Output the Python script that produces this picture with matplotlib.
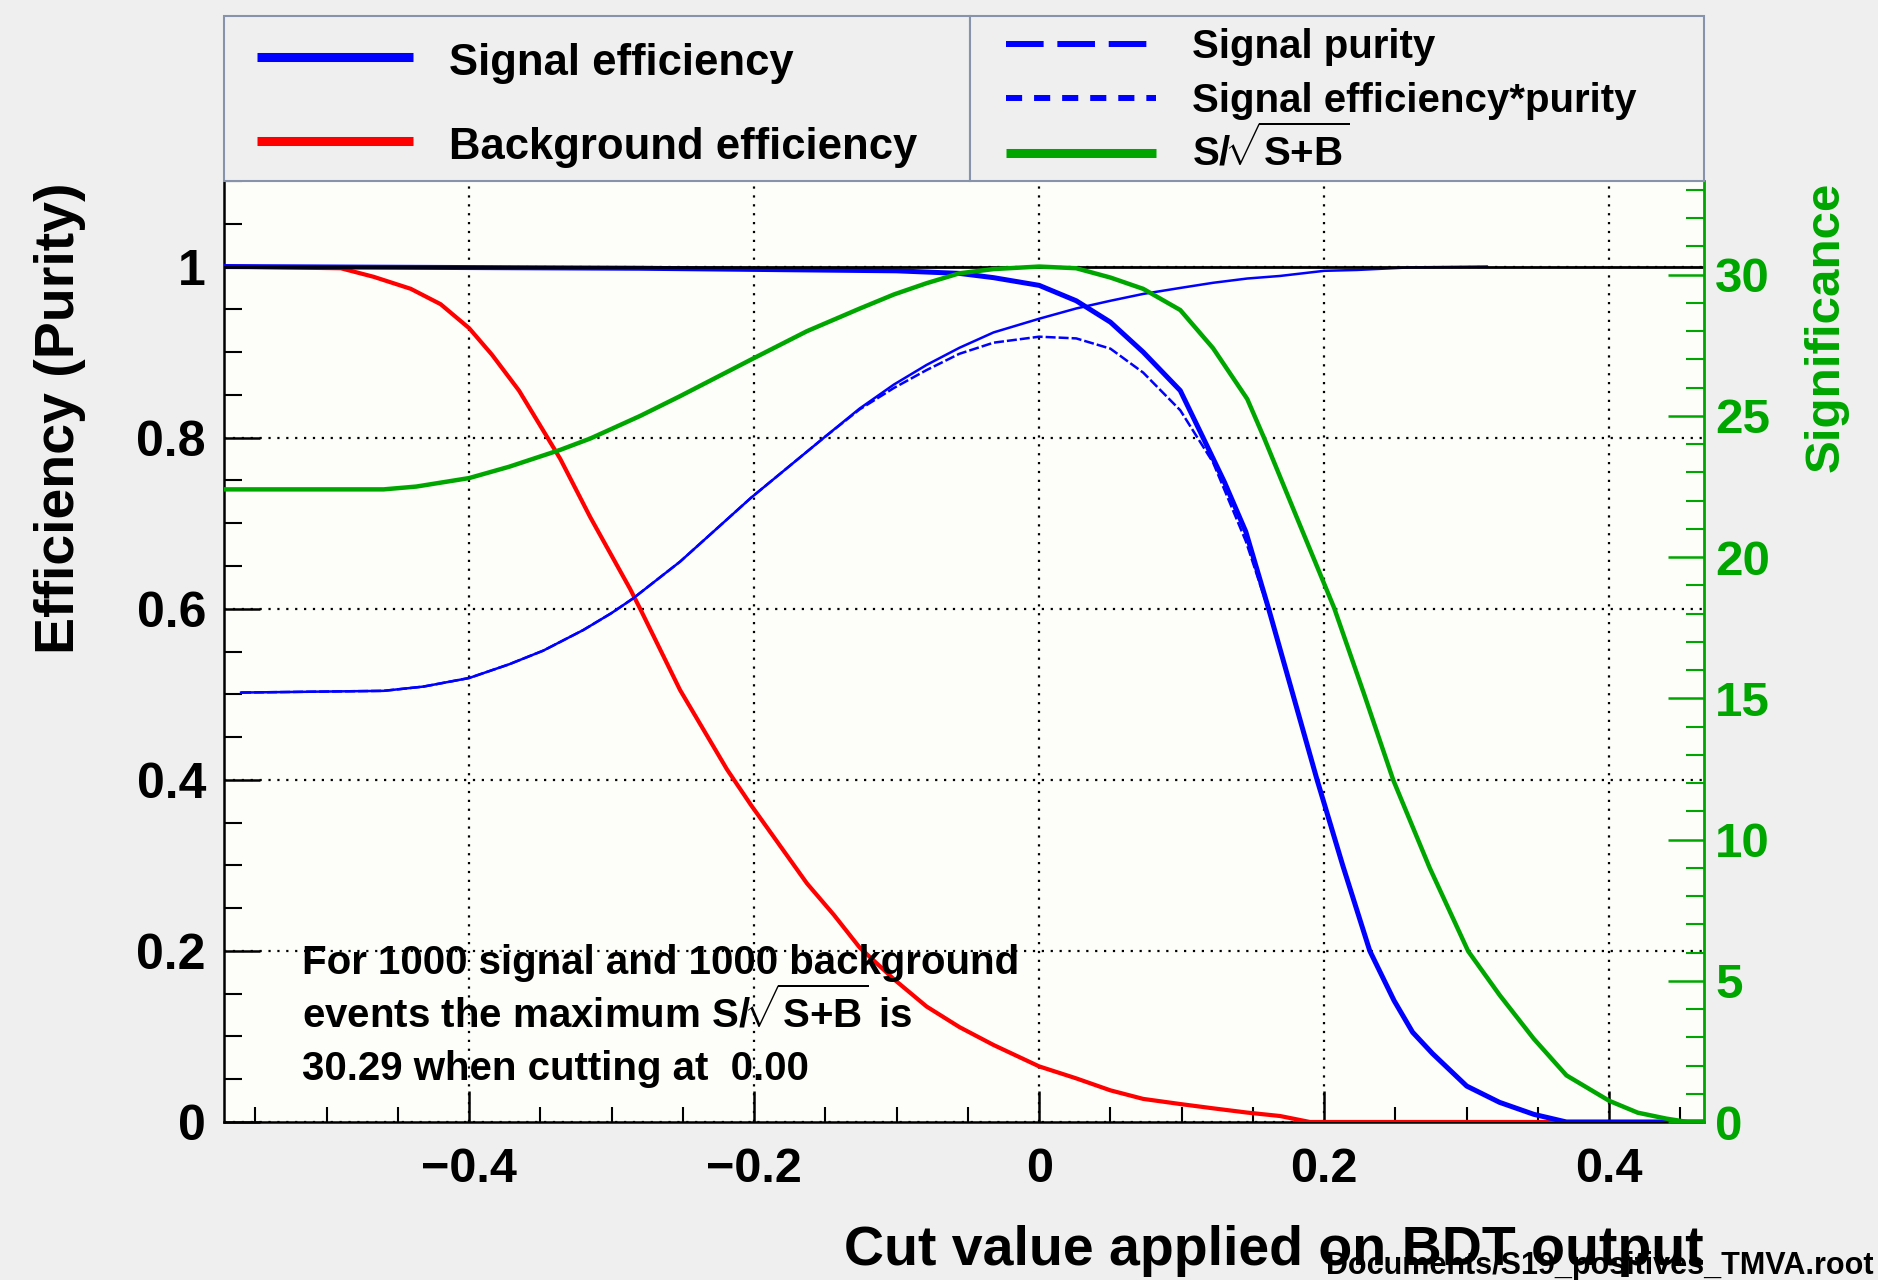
import numpy as np
import matplotlib
matplotlib.use("Agg")
import matplotlib.pyplot as plt
from matplotlib.lines import Line2D
from matplotlib.patches import Rectangle
from matplotlib.ticker import MultipleLocator

# === Fonts ===
plt.rcParams['font.family'] = ['Liberation Sans', 'DejaVu Sans']
plt.rcParams['font.weight'] = 'bold'
plt.rcParams['mathtext.fontset'] = 'custom'
plt.rcParams['mathtext.rm'] = 'Liberation Sans:bold'
plt.rcParams['mathtext.bf'] = 'Liberation Sans:bold'
plt.rcParams['mathtext.it'] = 'Liberation Sans:bold'
plt.rcParams['mathtext.sf'] = 'Liberation Sans:bold'

# === Data ===
x_range = (-0.572, 0.4665)
eff_top = 1.1
sig_max = 30.29

# background efficiency
bkg_x = [-0.572, -0.49, -0.467, -0.441, -0.42, -0.40, -0.384, -0.365, -0.345, -0.336,
         -0.315, -0.287, -0.280, -0.252, -0.219, -0.202, -0.187, -0.163, -0.144, -0.126,
         -0.102, -0.079, -0.056, -0.032, 0.0, 0.026, 0.050, 0.073, 0.099, 0.122,
         0.146, 0.169, 0.190, 0.44]
bkg_eff = [1.0, 0.998, 0.988, 0.974, 0.956, 0.928, 0.897, 0.855, 0.80, 0.775,
           0.707, 0.623, 0.60, 0.505, 0.412, 0.370, 0.335, 0.279, 0.242, 0.204,
           0.167, 0.135, 0.111, 0.090, 0.065, 0.051, 0.037, 0.027, 0.021, 0.016,
           0.011, 0.007, 0.0, 0.0]

# signal efficiency
sig_x = [-0.572, -0.28, -0.10, -0.056, -0.032, 0.0, 0.026, 0.050, 0.073, 0.099,
         0.115, 0.130, 0.145, 0.161, 0.178, 0.195, 0.213, 0.232, 0.249, 0.262,
         0.276, 0.30, 0.323, 0.347, 0.37, 0.4665]
sig_eff = [1.0, 0.998, 0.995, 0.992, 0.987, 0.978, 0.960, 0.935, 0.900, 0.855,
           0.80, 0.748, 0.69, 0.60, 0.50, 0.40, 0.30, 0.20, 0.142, 0.105,
           0.080, 0.042, 0.023, 0.009, 0.0, 0.0]

# signal purity
pur_x = [-0.560, -0.46, -0.432, -0.40, -0.372, -0.348, -0.32, -0.30, -0.285, -0.252,
         -0.202, -0.151, -0.126, -0.102, -0.079, -0.056, -0.032, 0.0, 0.026, 0.050,
         0.073, 0.099, 0.122, 0.146, 0.169, 0.20, 0.223, 0.26, 0.314]
purity = [0.502, 0.504, 0.509, 0.519, 0.535, 0.551, 0.575, 0.595, 0.612, 0.655,
          0.730, 0.80, 0.834, 0.862, 0.885, 0.905, 0.923, 0.939, 0.951, 0.960,
          0.968, 0.975, 0.981, 0.986, 0.989, 0.995, 0.996, 0.999, 1.0]

# signal efficiency * purity
effpur_x = [-0.560, -0.46, -0.432, -0.40, -0.372, -0.348, -0.32, -0.30, -0.285, -0.252,
            -0.202, -0.151, -0.126, -0.102, -0.079, -0.056, -0.032, 0.0, 0.026, 0.050,
            0.073, 0.099, 0.122, 0.145, 0.161, 0.178, 0.195, 0.213, 0.232, 0.249,
            0.262, 0.276, 0.30, 0.323, 0.347, 0.37]
eff_pur = [0.502, 0.504, 0.509, 0.519, 0.535, 0.551, 0.575, 0.595, 0.612, 0.655,
           0.730, 0.80, 0.833, 0.858, 0.879, 0.898, 0.911, 0.918, 0.916, 0.904,
           0.876, 0.832, 0.771, 0.679, 0.598, 0.498, 0.399, 0.30, 0.20, 0.142,
           0.105, 0.080, 0.042, 0.023, 0.009, 0.0]

# significance S/sqrt(S+B), right axis
signif_x = [-0.572, -0.46, -0.437, -0.40, -0.372, -0.348, -0.336, -0.315, -0.280, -0.252,
            -0.202, -0.163, -0.126, -0.102, -0.079, -0.056, -0.032, 0.0, 0.026, 0.050,
            0.073, 0.099, 0.122, 0.146, 0.158, 0.18, 0.207, 0.228, 0.2485, 0.274,
            0.301, 0.323, 0.347, 0.37, 0.40, 0.42, 0.44, 0.455, 0.4665]
signif = [22.4, 22.4, 22.5, 22.8, 23.2, 23.6, 23.8, 24.2, 25.0, 25.7,
          27.0, 28.0, 28.8, 29.3, 29.7, 30.05, 30.2, 30.29, 30.23, 29.9,
          29.5, 28.75, 27.4, 25.6, 24.2, 21.5, 18.2, 15.15, 12.1, 9.0,
          6.05, 4.5, 2.95, 1.65, 0.75, 0.33, 0.12, 0.0, 0.0]

# tick labels
x_ticks = [-0.4, -0.2, 0.0, 0.2, 0.4]
x_tick_labels = ['\u22120.4', '\u22120.2', '0', '0.2', '0.4']
y_ticks = [0.0, 0.2, 0.4, 0.6, 0.8, 1.0]
y_tick_labels = ['0', '0.2', '0.4', '0.6', '0.8', '1']
sig_ticks = [0, 5, 10, 15, 20, 25, 30]
sig_tick_labels = ['0', '5', '10', '15', '20', '25', '30']

sqrt_label = r'S/$\!\sqrt{\mathrm{S{+}B}}$'
info_lines = ['For 1000 signal and 1000 background',
              'events the maximum ' + sqrt_label + ' is',
              '30.29 when cutting at  0.00']

# === Colours ===
c_blue = '#0000ff'
c_red = '#ff0000'
c_green = '#00a600'
c_frame = '#8793aa'
c_bg = '#efefef'

# === Figure in pixel coordinates ===
W, H = 1878, 1280
fig = plt.figure(figsize=(W / 100, H / 100), dpi=100, facecolor=c_bg)

def fx(px):
    return px / W

def fy(py):
    return 1 - py / H

ax = fig.add_axes([fx(224), fy(1122), fx(1704) - fx(224), fy(181) - fy(1122)])
ax.set_facecolor('#fdfdf9')
ax.set_xlim(*x_range)
ax.set_ylim(0, eff_top)

dot = (0, (1, 3))
ax.grid(True, which='major', color='black', linestyle=dot, linewidth=1.6)

ax.plot(bkg_x, bkg_eff, color=c_red, lw=3.0, zorder=3)
ax.plot(pur_x, purity, color=c_blue, lw=1.8, zorder=3)
ax.plot(effpur_x, eff_pur, color=c_blue, lw=1.8, linestyle=(0, (4, 1.2)), zorder=3)
ax.plot(sig_x, sig_eff, color=c_blue, lw=3.6, zorder=4)
ax.axhline(1.0, color='black', lw=2.0, zorder=6)

ax2 = ax.twinx()
ax2.set_ylim(0, eff_top * sig_max)
ax2.plot(signif_x, signif, color=c_green, lw=3.2, zorder=5)

# === Axes styling ===
ax.set_xticks(x_ticks)
ax.set_xticklabels(x_tick_labels)
ax.set_yticks(y_ticks)
ax.set_yticklabels(y_tick_labels)
ax.xaxis.set_minor_locator(MultipleLocator(0.05))
ax.yaxis.set_minor_locator(MultipleLocator(0.05))
ax.tick_params(axis='x', which='major', direction='in', length=22, width=1.8,
               labelsize=35, pad=18, top=False)
ax.tick_params(axis='x', which='minor', direction='in', length=11, width=1.5, top=False)
ax.tick_params(axis='y', which='major', direction='in', length=26, width=1.8,
               labelsize=36, pad=13, right=False)
ax.tick_params(axis='y', which='minor', direction='in', length=13, width=1.5, right=False)
for s in ['top', 'right']:
    ax.spines[s].set_visible(False)
for s in ['left', 'bottom']:
    ax.spines[s].set_linewidth(1.8)

ax2.set_yticks(sig_ticks)
ax2.set_yticklabels(sig_tick_labels)
ax2.yaxis.set_minor_locator(MultipleLocator(1))
ax2.tick_params(axis='y', which='major', direction='in', length=26, width=1.8,
                labelsize=35.5, pad=8, colors=c_green)
ax2.tick_params(axis='y', which='minor', direction='in', length=13, width=1.5, colors=c_green)
for s in ['top', 'left', 'bottom']:
    ax2.spines[s].set_visible(False)
ax2.spines['right'].set_color(c_green)
ax2.spines['right'].set_linewidth(2.0)

# === Axis titles ===
fig.text(fx(1704), fy(1265), 'Cut value applied on BDT output', ha='right',
         va='baseline', fontsize=40)
fig.text(fx(60), fy(182), 'Efficiency (Purity)', rotation=90, ha='center',
         va='top', fontsize=40)
fig.text(fx(1826), fy(182), 'Significance', rotation=90, ha='center',
         va='top', fontsize=35.5, color=c_green)
fig.text(fx(1874), fy(1274), 'Documents/S19_positives_TMVA.root', ha='right',
         va='baseline', fontsize=22)

# === Info text ===
for line, base in zip(info_lines, [974, 1027, 1080]):
    ax.text(fx(302), fy(base), line, transform=fig.transFigure, ha='left',
            va='baseline', fontsize=29, zorder=7)

# === Legend boxes ===
for x0, x1 in [(224, 970), (970, 1704)]:
    fig.add_artist(Rectangle((fx(x0), fy(181)), fx(x1) - fx(x0), fy(16) - fy(181),
                             transform=fig.transFigure, facecolor=c_bg,
                             edgecolor=c_frame, lw=1.5))

legend_left = [('Signal efficiency', c_blue, '-', 57, 75),
               ('Background efficiency', c_red, '-', 141, 159)]
for label, col, ls, ly, ty in legend_left:
    fig.add_artist(Line2D([fx(257), fx(413)], [fy(ly), fy(ly)], color=col, lw=6.5,
                          linestyle=ls, solid_capstyle='butt'))
    fig.text(fx(449), fy(ty), label, ha='left', va='baseline', fontsize=31.4)

legend_right = [('Signal purity', c_blue, (0, (6.3, 2.3)), 4.3, 44, 58),
                ('Signal efficiency*purity', c_blue, (0, (2.7, 2.0)), 4.3, 98, 112),
                (sqrt_label, c_green, '-', 6.5, 153, 166)]
for label, col, ls, lw, ly, ty in legend_right:
    fig.add_artist(Line2D([fx(1006), fx(1156)], [fy(ly), fy(ly)], color=col, lw=lw,
                          linestyle=ls, solid_capstyle='butt', dash_capstyle='butt'))
    fig.text(fx(1192), fy(ty), label, ha='left', va='baseline', fontsize=29)

fig.savefig('out.png', dpi=100, facecolor=c_bg)
